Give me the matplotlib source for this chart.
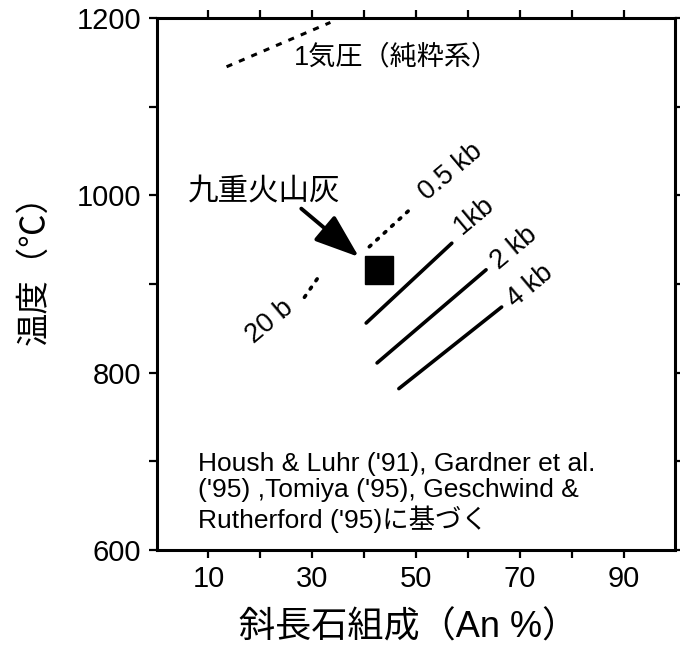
import matplotlib.pyplot as plt

plt.rcParams['font.family'] = ['Liberation Sans', 'Noto Sans CJK JP']

# 1気圧（純粋系）の曲線
atm1_x = [13.5, 33.5]
atm1_y = [1145, 1195]

# 各圧力の曲線 (An %, ℃)
b20_x = [28.5, 31.7]
b20_y = [885, 912]
kb05_x = [41.0, 49.2]
kb05_y = [942, 986]
kb1_x = [40.4, 56.9]
kb1_y = [856, 946]
kb2_x = [42.5, 63.5]
kb2_y = [811, 916]
kb4_x = [46.7, 66.5]
kb4_y = [782, 874]

# 九重火山灰
ash_x = [42.8]
ash_y = [916]

# ラベル位置
label_text = ['20 b', '0.5 kb', '1kb', '2 kb', '4 kb']
label_x = [21.9, 56.8, 61.3, 69.0, 71.9]
label_y = [857, 1026, 977, 940, 898]

xticks = [10, 20, 30, 40, 50, 60, 70, 80, 90]
xticklabels = ['10', '', '30', '', '50', '', '70', '', '90']
yticks = [600, 700, 800, 900, 1000, 1100, 1200]
yticklabels = ['600', '', '800', '', '1000', '', '1200']

fig = plt.figure(figsize=(6.8, 6.47), dpi=100)
ax = fig.add_axes([156.5 / 680, 97 / 647, 519 / 680, 532 / 647])

ax.plot(atm1_x, atm1_y, color='k', lw=2.2, linestyle=(0, (2.0, 2.4)))
ax.plot(b20_x, b20_y, color='k', lw=2.6, linestyle=(0, (0.6, 2.2)), dash_capstyle='round')
ax.plot(kb05_x, kb05_y, color='k', lw=2.6, linestyle=(0, (0.6, 2.2)), dash_capstyle='round')
for xs, ys in [(kb1_x, kb1_y), (kb2_x, kb2_y), (kb4_x, kb4_y)]:
    ax.plot(xs, ys, color='k', lw=2.6, solid_capstyle='round')

ax.plot(ash_x, ash_y, marker='s', ms=20, color='k', linestyle='none')

for t, x, y in zip(label_text, label_x, label_y):
    ax.text(x, y, t, fontsize=19.5, rotation=40, rotation_mode='anchor',
            ha='center', va='center')

ax.text(26.5, 1155, '1気圧（純粋系）', fontsize=19.5, ha='left', va='center')
ax.text(6.0, 1004, '九重火山灰', fontsize=22, ha='left', va='center')
ax.annotate('', xy=(39.0, 930.5), xytext=(27.9, 985),
            arrowprops=dict(arrowstyle='-|>,head_length=1.1,head_width=0.4',
                            mutation_scale=25, lw=2.8, color='k',
                            shrinkA=0, shrinkB=0))

ax.text(8.0, 665,
        "Housh & Luhr ('91), Gardner et al.\n('95) ,Tomiya ('95), Geschwind &\nRutherford ('95)に基づく",
        fontsize=19, ha='left', va='center', linespacing=1.12)

ax.set_xlim(0, 100)
ax.set_ylim(600, 1200)
ax.set_xticks(xticks)
ax.set_xticklabels(xticklabels, fontsize=21)
ax.set_yticks(yticks)
ax.set_yticklabels(yticklabels, fontsize=21)
ax.tick_params(direction='out', length=6, width=1.6, top=True, right=True, pad=5)
for s in ax.spines.values():
    s.set_linewidth(2.2)

ax.set_xlabel('斜長石組成（An %）', fontsize=26)
ax.set_ylabel('温度（℃）', fontsize=24)
ax.xaxis.set_label_coords(0.485, -0.114)
ax.yaxis.set_label_coords(-0.205, 0.543)

fig.savefig('out.png', dpi=100)
